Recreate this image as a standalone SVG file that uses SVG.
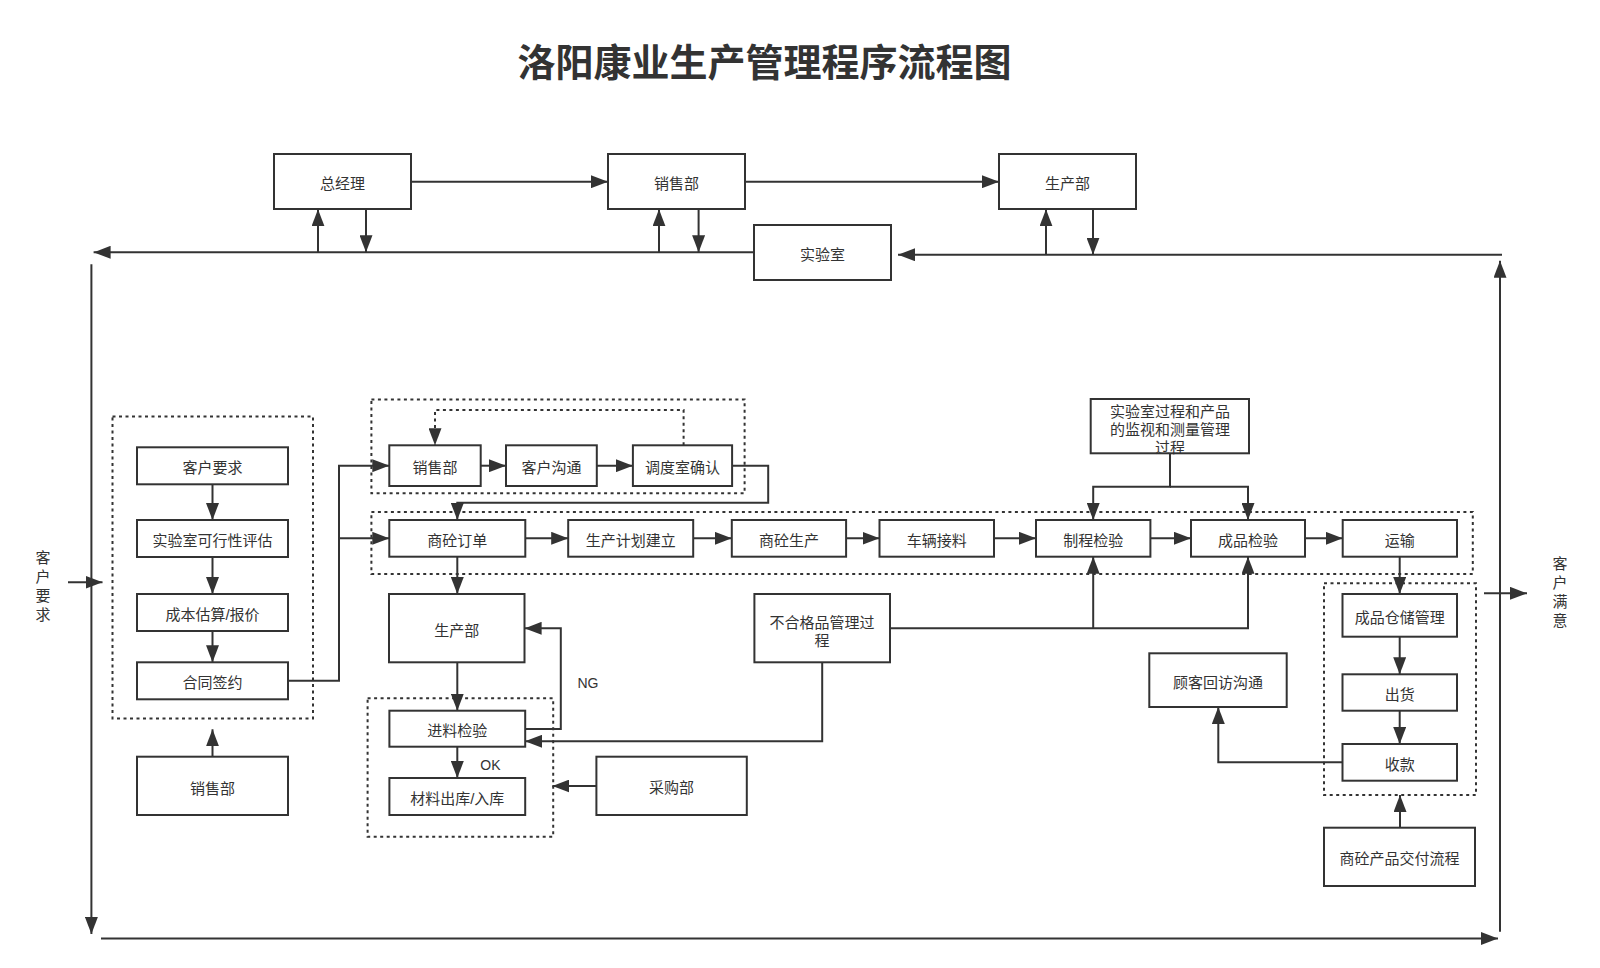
<svg xmlns="http://www.w3.org/2000/svg" width="1600" height="968" viewBox="0 0 1600 968">
<style>
.box{fill:#fff;stroke:#333;stroke-width:2}
.grp{fill:none;stroke:#333;stroke-width:2;stroke-dasharray:3 3.5}
.t{font-family:"Liberation Sans","Noto Sans CJK SC",sans-serif;font-size:15px;fill:#333;text-anchor:middle;dominant-baseline:central}
.c{fill:none;stroke:#333;stroke-width:2}
.d{fill:none;stroke:#333;stroke-width:2;stroke-dasharray:3 3.5}
.title{font-family:"Noto Sans CJK SC",sans-serif;font-size:38px;font-weight:bold;fill:#333;text-anchor:middle;dominant-baseline:central}
</style>
<defs>
<marker id="a" markerUnits="userSpaceOnUse" markerWidth="17" markerHeight="13" viewBox="0 0 17 13" refX="17" refY="6.5" orient="auto">
<path d="M0,0 L17,6.5 L0,13 Z" fill="#333"/>
</marker>
</defs>
<rect width="1600" height="968" fill="#fff"/>
<text class="title" x="764.5" y="59.5">洛阳康业生产管理程序流程图</text>

<g id="groups">
<rect class="grp" x="112.5" y="416.5" width="200.5" height="302"/>
<rect class="grp" x="371.4" y="399.5" width="373.2" height="93.8"/>
<rect class="grp" x="371.4" y="512" width="1101.4" height="62"/>
<rect class="grp" x="367.6" y="698.3" width="185.6" height="138.4"/>
<rect class="grp" x="1324" y="583.3" width="152" height="211.7"/>
</g>

<g id="connectors">
<path class="c" d="M411,181.7 H608" marker-end="url(#a)"/>
<path class="c" d="M745,181.7 H999" marker-end="url(#a)"/>
<path class="c" d="M754,252.3 H93.6" marker-end="url(#a)"/>
<path class="c" d="M318,252.3 V209.3" marker-end="url(#a)"/>
<path class="c" d="M366,209.3 V252.3" marker-end="url(#a)"/>
<path class="c" d="M659,252.3 V209.3" marker-end="url(#a)"/>
<path class="c" d="M698.6,209.3 V252.3" marker-end="url(#a)"/>
<path class="c" d="M1502,254.7 H898" marker-end="url(#a)"/>
<path class="c" d="M1046,254.7 V209.3" marker-end="url(#a)"/>
<path class="c" d="M1093,209.3 V254.7" marker-end="url(#a)"/>
<path class="c" d="M1500,931.7 V260.7" marker-end="url(#a)"/>
<path class="c" d="M91.4,264.3 V934" marker-end="url(#a)"/>
<path class="c" d="M101,938.5 H1498" marker-end="url(#a)"/>
<path class="c" d="M68,582.3 H102.5" marker-end="url(#a)"/>
<path class="c" d="M1484,593.3 H1527" marker-end="url(#a)"/>

<path class="c" d="M212.5,484.3 V520" marker-end="url(#a)"/>
<path class="c" d="M212.5,557 V594" marker-end="url(#a)"/>
<path class="c" d="M212.5,631 V662.3" marker-end="url(#a)"/>
<path class="c" d="M212.5,756.7 V729.3" marker-end="url(#a)"/>
<path class="c" d="M288,680.7 H339 V465.7 H389.3" marker-end="url(#a)"/>
<path class="c" d="M339,538.3 H389.3" marker-end="url(#a)"/>

<path class="c" d="M480.7,465.7 H506" marker-end="url(#a)"/>
<path class="c" d="M596.8,465.7 H632.9" marker-end="url(#a)"/>
<path class="d" d="M683.6,445.3 V410 H435 V445.3" marker-end="url(#a)"/>
<path class="c" d="M732.1,465.7 H768.2 V502.7 H457.3 V520" marker-end="url(#a)"/>

<path class="c" d="M525.3,538.3 H568.2" marker-end="url(#a)"/>
<path class="c" d="M693.2,538.3 H731.8" marker-end="url(#a)"/>
<path class="c" d="M846.1,538.3 H879.5" marker-end="url(#a)"/>
<path class="c" d="M994,538.3 H1036" marker-end="url(#a)"/>
<path class="c" d="M1150.4,538.3 H1191" marker-end="url(#a)"/>
<path class="c" d="M1305,538.3 H1342.7" marker-end="url(#a)"/>
<path class="c" d="M457.3,556.7 V594" marker-end="url(#a)"/>
<path class="c" d="M1170,453.3 V486.7 H1093.2 V520" marker-end="url(#a)"/>
<path class="c" d="M1170,486.7 H1248 V520" marker-end="url(#a)"/>
<path class="c" d="M1399.7,556.7 V594" marker-end="url(#a)"/>
<path class="c" d="M889.6,628.3 H1248 V556.7" marker-end="url(#a)"/>
<path class="c" d="M1093.2,628.3 V556.7" marker-end="url(#a)"/>

<path class="c" d="M457.3,662.3 V710.7" marker-end="url(#a)"/>
<path class="c" d="M525.2,729 H560.8 V628.3 H524.6" marker-end="url(#a)"/>
<path class="c" d="M457.3,746.7 V778" marker-end="url(#a)"/>
<path class="c" d="M822.2,662.3 V741.3 H525" marker-end="url(#a)"/>
<path class="c" d="M596.4,786 H552.4" marker-end="url(#a)"/>

<path class="c" d="M1399.7,636.7 V674.3" marker-end="url(#a)"/>
<path class="c" d="M1399.7,710.7 V744" marker-end="url(#a)"/>
<path class="c" d="M1342.5,762.3 H1218.3 V707" marker-end="url(#a)"/>
<path class="c" d="M1400,827.7 V795" marker-end="url(#a)"/>
</g>

<g id="n_gm"><rect class="box" x="274" y="154" width="137" height="55"/><text class="t" x="342.5" y="183.5">总经理</text></g>
<g id="n_sales_top"><rect class="box" x="608" y="154" width="137" height="55"/><text class="t" x="676.5" y="183.5">销售部</text></g>
<g id="n_prod_top"><rect class="box" x="999" y="154" width="137" height="55"/><text class="t" x="1067.5" y="183.5">生产部</text></g>
<g id="n_lab"><rect class="box" x="754" y="225" width="137" height="55"/><text class="t" x="822.5" y="254.5">实验室</text></g>

<g id="n_req"><rect class="box" x="137" y="447.3" width="151" height="37"/><text class="t" x="212.5" y="467.5">客户要求</text></g>
<g id="n_feas"><rect class="box" x="137" y="520" width="151" height="37"/><text class="t" x="212.5" y="540">实验室可行性评估</text></g>
<g id="n_cost"><rect class="box" x="137" y="594" width="151" height="37"/><text class="t" x="212.5" y="614">成本估算/报价</text></g>
<g id="n_contract"><rect class="box" x="137" y="662.3" width="151" height="37"/><text class="t" x="212.5" y="682.5">合同签约</text></g>
<g id="n_sales_bl"><rect class="box" x="137" y="756.7" width="151" height="58.3"/><text class="t" x="212.5" y="788">销售部</text></g>

<g id="n_sales_mid"><rect class="box" x="389.3" y="445.3" width="91.4" height="40.7"/><text class="t" x="435" y="467.5">销售部</text></g>
<g id="n_comm"><rect class="box" x="506" y="445.3" width="90.8" height="40.7"/><text class="t" x="551.4" y="467.5">客户沟通</text></g>
<g id="n_dispatch"><rect class="box" x="632.9" y="445.3" width="99.2" height="40.7"/><text class="t" x="682.5" y="467.5">调度室确认</text></g>

<g id="n_order"><rect class="box" x="389.3" y="520" width="136" height="36.7"/><text class="t" x="457.3" y="540">商砼订单</text></g>
<g id="n_plan"><rect class="box" x="568.2" y="520" width="125" height="36.7"/><text class="t" x="630.7" y="540">生产计划建立</text></g>
<g id="n_produce"><rect class="box" x="731.8" y="520" width="114.3" height="36.7"/><text class="t" x="789" y="540">商砼生产</text></g>
<g id="n_load"><rect class="box" x="879.5" y="520" width="114.5" height="36.7"/><text class="t" x="936.7" y="540">车辆接料</text></g>
<g id="n_pinsp"><rect class="box" x="1036" y="520" width="114.4" height="36.7"/><text class="t" x="1093.2" y="540">制程检验</text></g>
<g id="n_finsp"><rect class="box" x="1191" y="520" width="114" height="36.7"/><text class="t" x="1248" y="540">成品检验</text></g>
<g id="n_trans"><rect class="box" x="1342.7" y="520" width="114.3" height="36.7"/><text class="t" x="1399.8" y="540">运输</text></g>

<g id="n_monitor"><rect class="box" x="1090.7" y="399" width="158.3" height="54.3"/>
<text class="t" x="1170" y="411">实验室过程和产品</text>
<text class="t" x="1170" y="429.3">的监视和测量管理</text>
<text class="t" x="1170" y="447">过程</text></g>

<g id="n_prod_mid"><rect class="box" x="389" y="594" width="135.5" height="68.3"/><text class="t" x="456.8" y="630">生产部</text></g>
<g id="n_nonconf"><rect class="box" x="754.4" y="594" width="135.6" height="68.3"/>
<text class="t" x="822" y="622">不合格品管理过</text>
<text class="t" x="822" y="640.5">程</text></g>
<g id="n_incoming"><rect class="box" x="389.4" y="710.7" width="135.8" height="36"/><text class="t" x="457.3" y="730.5">进料检验</text></g>
<g id="n_material"><rect class="box" x="389.4" y="778" width="135.8" height="37"/><text class="t" x="457.3" y="798">材料出库/入库</text></g>
<g id="n_purchase"><rect class="box" x="596.4" y="756.7" width="150.4" height="58.3"/><text class="t" x="671.6" y="787.5">采购部</text></g>

<g id="n_store"><rect class="box" x="1342.5" y="594" width="114.5" height="42.7"/><text class="t" x="1399.7" y="617">成品仓储管理</text></g>
<g id="n_ship"><rect class="box" x="1342.5" y="674.3" width="114.5" height="36.4"/><text class="t" x="1399.7" y="694.5">出货</text></g>
<g id="n_pay"><rect class="box" x="1342.5" y="744" width="114.5" height="36.7"/><text class="t" x="1399.7" y="764">收款</text></g>
<g id="n_visit"><rect class="box" x="1149.3" y="653.3" width="137.4" height="53.7"/><text class="t" x="1218" y="682">顾客回访沟通</text></g>
<g id="n_deliver"><rect class="box" x="1324" y="827.7" width="151" height="58.3"/><text class="t" x="1399.5" y="858.5">商砼产品交付流程</text></g>

<g id="labels">
<text class="t" x="588" y="683" style="font-size:14px">NG</text>
<text class="t" x="490.4" y="765" style="font-size:14px">OK</text>
<text class="t" x="43" y="557">客</text>
<text class="t" x="43" y="576">户</text>
<text class="t" x="43" y="595">要</text>
<text class="t" x="43" y="614">求</text>
<text class="t" x="1560" y="563">客</text>
<text class="t" x="1560" y="582">户</text>
<text class="t" x="1560" y="601">满</text>
<text class="t" x="1560" y="620">意</text>
</g>
</svg>
